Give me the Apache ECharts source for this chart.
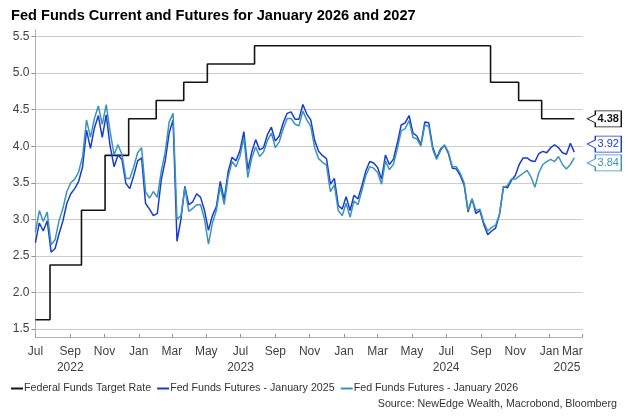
<!DOCTYPE html>
<html><head><meta charset="utf-8">
<script src="https://cdn.jsdelivr.net/npm/echarts@6/dist/echarts.min.js"></script>
<style>html,body{margin:0;padding:0;background:#fff}#c{width:635px;height:419px}</style>
</head><body><div id="c"></div>
<script>
const TITLE = 'Fed Funds Current and Futures for January 2026 and 2027';
const SOURCE = 'Source: NewEdge Wealth, Macrobond, Bloomberg';
const seriesNames = ['Federal Funds Target Rate', 'Fed Funds Futures - January 2025', 'Fed Funds Futures - January 2026'];

// Federal funds target rate (midpoint of range), value from each date on
const fedDates = ['2022-07-01','2022-07-27','2022-09-21','2022-11-02','2022-12-14','2023-02-01','2023-03-22','2023-05-03','2023-07-26','2024-09-18','2024-11-07','2024-12-18','2025-02-14'];
const fedRate  = [1.625, 2.375, 3.125, 3.875, 4.375, 4.625, 4.875, 5.125, 5.375, 4.875, 4.625, 4.375, 4.375];

// Weekly futures readings starting on this date
const futuresStart = '2022-07-01';
const futuresStepDays = 7;
const futJan25 = [
 2.68,2.95,2.84,2.98,2.55,2.60,2.80,2.98,3.22,3.35,3.42,3.52,3.72,4.22,3.97,4.25,4.42,4.12,4.43,4.00,3.72,3.88,3.82,3.49,3.42,3.60,3.80,3.84,3.22,3.14,3.05,
 3.08,3.54,3.80,4.18,4.36,2.70,3.00,3.45,3.20,3.24,3.35,3.30,3.12,2.85,3.05,3.17,3.52,3.27,3.65,3.85,3.80,3.94,4.20,3.68,3.92,4.09,3.95,3.98,4.16,4.26,4.07,4.14,4.32,4.45,4.47,4.37,4.37,4.57,4.44,4.36,4.08,3.93,3.87,3.83,3.48,3.56,3.19,3.14,
 3.31,3.12,3.33,3.28,3.46,3.66,3.79,3.77,3.71,3.55,3.88,3.75,3.82,4.04,4.29,4.32,4.42,4.18,4.14,4.02,4.33,4.32,3.99,3.84,3.96,4.01,3.90,3.70,3.69,3.60,3.47,3.10,3.28,3.08,3.12,2.93,2.79,2.84,2.88,3.07,3.45,3.43,3.53,3.60,3.75,3.84,3.84,3.80,
 3.79,3.90,3.93,3.91,3.98,4.02,3.98,3.91,3.89,4.04,3.92];
const futJan26 = [
 2.82,3.12,2.97,3.10,2.65,2.72,2.98,3.15,3.38,3.50,3.55,3.65,3.86,4.36,4.12,4.38,4.55,4.30,4.57,4.20,3.88,4.02,3.89,3.56,3.56,3.72,3.91,3.98,3.38,3.29,3.38,
 3.30,3.66,3.92,4.33,4.45,3.00,3.05,3.43,3.11,3.15,3.20,3.20,3.00,2.66,2.95,3.12,3.45,3.20,3.58,3.79,3.72,3.86,4.12,3.57,3.84,3.99,3.86,3.92,4.08,4.18,3.98,4.06,4.24,4.38,4.38,4.30,4.28,4.48,4.36,4.27,3.98,3.83,3.78,3.74,3.38,3.47,3.12,3.05,
 3.22,3.03,3.25,3.20,3.39,3.60,3.72,3.70,3.64,3.48,3.80,3.68,3.75,3.96,4.21,4.24,4.35,4.12,4.10,4.00,4.29,4.27,3.96,3.82,3.94,4.02,3.92,3.72,3.72,3.63,3.50,3.12,3.28,3.12,3.14,2.96,2.84,2.89,2.92,3.07,3.44,3.46,3.55,3.55,3.59,3.63,3.67,3.58,
 3.44,3.64,3.75,3.79,3.82,3.79,3.86,3.75,3.69,3.75,3.84];

const endLabels = ['4.38', '3.92', '3.84'];
const yTicks = [1.5, 2.0, 2.5, 3.0, 3.5, 4.0, 4.5, 5.0, 5.5];
const monthTicks = ['2022-07-01','2022-09-01','2022-11-01','2023-01-01','2023-03-01','2023-05-01','2023-07-01','2023-09-01','2023-11-01','2024-01-01','2024-03-01','2024-05-01','2024-07-01','2024-09-01','2024-11-01','2025-01-01','2025-03-01'];
const yearTickDates = ['2022-09-01','2023-07-01','2024-07-01','2025-02-01'];
const yearTickLabels = ['2022','2023','2024','2025'];
const xMin = '2022-07-01', xMax = '2025-03-01';
const MONTHS = ['Jan','Feb','Mar','Apr','May','Jun','Jul','Aug','Sep','Oct','Nov','Dec'];

const colors = ['#141414', '#1a3ccc', '#3a94ba'];
const FONT = 'Liberation Sans, Arial, sans-serif';
const ts = s => new Date(s + 'T00:00:00').getTime();

function weeklyDates(n) {
  const out = [];
  for (let i = 0; i < n; i++) {
    const d = new Date(futuresStart + 'T00:00:00');
    d.setDate(d.getDate() + futuresStepDays * i);
    out.push(d.getTime());
  }
  return out;
}
const futDates = weeklyDates(futJan25.length);
const fedData = fedDates.map((d, i) => [ts(d), fedRate[i]]);
const j25Data = futJan25.map((v, i) => [futDates[i], v]);
const j26Data = futJan26.map((v, i) => [futDates[i], v]);
const yearTs = yearTickDates.map(ts);

const CALLOUT = 'path://M0,8L8,4L8,0L34,0L34,16L8,16L8,12Z';
function callout(data, color, label, dy, bold) {
  const last = data[data.length - 1];
  return {
    silent: true,
    symbol: CALLOUT,
    symbolSize: [34, 16],
    symbolOffset: [30, dy],
    itemStyle: { color: '#fff', borderColor: color, borderWidth: 1 },
    label: { show: true, position: 'inside', offset: [4, 0], color: color, fontSize: 11, fontFamily: FONT, fontWeight: bold ? 'bold' : 'normal', formatter: label },
    data: [{ coord: last }]
  };
}

const chart = echarts.init(document.getElementById('c'), null, { renderer: 'canvas' });
chart.setOption({
  animation: false,
  backgroundColor: '#fff',
  title: [
    { text: TITLE, left: 11, top: 8, padding: 0, textStyle: { fontSize: 14.6, fontWeight: 'bold', color: '#000', fontFamily: FONT } },
    { text: SOURCE, right: 18, top: 399, padding: 0, textStyle: { fontSize: 10.7, fontWeight: 'normal', color: '#333', fontFamily: FONT } }
  ],
  legend: {
    left: 11, top: 383, padding: 0, itemGap: 6, itemWidth: 12, itemHeight: 2, icon: 'rect',
    textStyle: { fontSize: 10.7, color: '#333', fontFamily: FONT, padding: [0, 0, 0, -4] },
    data: seriesNames
  },
  grid: { left: 35.4, right: 52.3, top: 30, bottom: 82, containLabel: false },
  xAxis: [
    {
      type: 'value', min: ts(xMin), max: ts(xMax), scale: true,
      axisLine: { show: true, lineStyle: { color: '#b0b0b0', width: 1 } },
      axisTick: { show: true, inside: true, length: 3, customValues: monthTicks.map(ts), lineStyle: { color: '#909090' } },
      axisLabel: { customValues: monthTicks.map(ts), color: '#404040', fontSize: 12, fontFamily: FONT, margin: 9,
        alignMaxLabel: 'right', formatter: v => MONTHS[new Date(v).getMonth()] },
      splitLine: { show: false }
    },
    {
      type: 'value', min: ts(xMin), max: ts(xMax), scale: true, position: 'bottom', offset: 16,
      axisLine: { show: false }, axisTick: { show: false }, splitLine: { show: false },
      axisLabel: { customValues: yearTs, color: '#404040', fontSize: 12, fontFamily: FONT, margin: 9,
        formatter: v => { const i = yearTs.indexOf(v); return i >= 0 ? yearTickLabels[i] : ''; } }
    }
  ],
  yAxis: {
    type: 'value', min: 1.39, max: 5.59,
    axisLine: { show: true, lineStyle: { color: '#b0b0b0', width: 1 } },
    axisTick: { show: true, inside: false, length: 4, customValues: yTicks, lineStyle: { color: '#909090' } },
    axisLabel: { customValues: yTicks, color: '#404040', fontSize: 12, fontFamily: FONT, margin: 6, formatter: v => v.toFixed(1) },
    splitLine: { show: true, lineStyle: { color: '#cccccc', width: 1 } }
  },
  series: [
    { name: seriesNames[0], type: 'line', step: 'end', data: fedData, showSymbol: false, symbol: 'none',
      lineStyle: { color: colors[0], width: 1.6 }, itemStyle: { color: colors[0] },
      markPoint: callout(fedData, colors[0], endLabels[0], 0, true) },
    { name: seriesNames[1], type: 'line', data: j25Data, showSymbol: false, symbol: 'none',
      lineStyle: { color: colors[1], width: 1.5 }, itemStyle: { color: colors[1] },
      markPoint: callout(j25Data, colors[1], endLabels[1], -8, false) },
    { name: seriesNames[2], type: 'line', data: j26Data, showSymbol: false, symbol: 'none',
      lineStyle: { color: colors[2], width: 1.5 }, itemStyle: { color: colors[2] },
      markPoint: callout(j26Data, colors[2], endLabels[2], 5, false) }
  ]
});
</script>
</body></html>
